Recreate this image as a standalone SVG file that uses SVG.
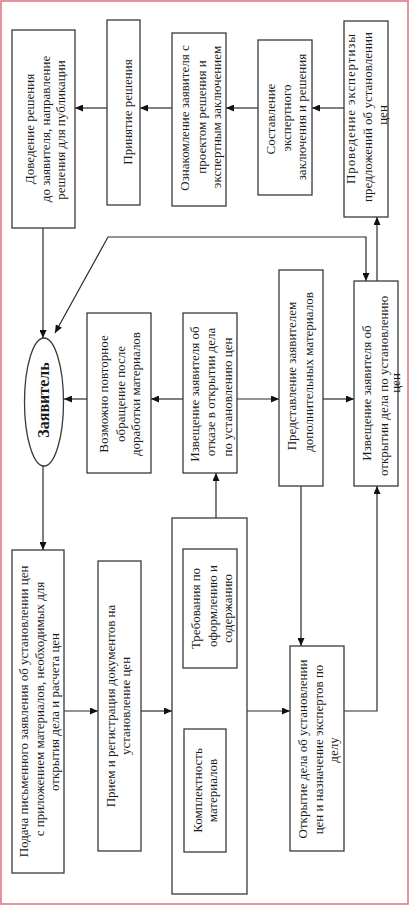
<svg xmlns="http://www.w3.org/2000/svg" width="410" height="906" viewBox="0 0 410 906">
<style>
.box{fill:#fff;stroke:#3a3a3a;stroke-width:1.3}
.t{font-family:"Liberation Serif","Times New Roman",serif;font-size:13px;fill:#1a1a1a;text-anchor:middle}
.s{text-anchor:start}
.b{font-weight:bold;font-size:16px}
.c{fill:none;stroke:#2a2a2a;stroke-width:1.2}
</style>
<defs>
<marker id="ah" markerUnits="userSpaceOnUse" markerWidth="8" markerHeight="7" refX="8" refY="3.5" orient="auto-start-reverse">
<path d="M0,0 L8,3.5 L0,7 z" fill="#111"/>
</marker>
</defs>
<rect x="0" y="0" width="410" height="906" fill="#fff"/>
<rect x="1" y="1" width="407" height="903" fill="none" stroke="#e07080" stroke-width="1.5"/>

<g id="connectors" class="c" marker-end="url(#ah)">
<path d="M344,108 H312"/>
<path d="M258,108 H226"/>
<path d="M172,108 H140"/>
<path d="M107,108 H75"/>
<path d="M43,228 V338"/>
<path d="M366,281 V237 H108 L55,333" marker-start="url(#ah)"/>
<path d="M377,281 V217"/>
<path d="M183,399 H151"/>
<path d="M87,399 H64"/>
<path d="M237,399 H279"/>
<path d="M323,399 H354"/>
<path d="M43,466 V550"/>
<path d="M216,518 V473"/>
<path d="M301,486 V646"/>
<path d="M344,711 H377 V486"/>
<path d="M64,711 H98"/>
<path d="M141,711 H172"/>
<path d="M247,711 H290"/>
</g>

<g id="n-dovedenie">
<rect class="box" x="12" y="30" width="63" height="198"/>
<text class="t" transform="translate(33.5,129) rotate(-90)">Доведение решения</text>
<text class="t" transform="translate(49.5,129) rotate(-90)">до заявителя, направление</text>
<text class="t" transform="translate(64.5,130) rotate(-90)">решения для публикации</text>
</g>
<g id="n-prinyatie">
<rect class="box" x="107" y="20" width="33" height="185"/>
<text class="t" transform="translate(132,112) rotate(-90)">Принятие решения</text>
</g>
<g id="n-oznakomlenie">
<rect class="box" x="172" y="33" width="54" height="173"/>
<text class="t" transform="translate(189,118) rotate(-90)">Ознакомление заявителя с</text>
<text class="t" transform="translate(205.5,117) rotate(-90)">проектом решения и</text>
<text class="t" transform="translate(221,117) rotate(-90)">экспертным заключением</text>
</g>
<g id="n-sostavlenie">
<rect class="box" x="258" y="40" width="54" height="155"/>
<text class="t" transform="translate(275,119) rotate(-90)">Составление</text>
<text class="t" transform="translate(291,118) rotate(-90)">экспертного</text>
<text class="t" transform="translate(306,117) rotate(-90)">заключения и решения</text>
</g>
<g id="n-provedenie">
<rect class="box" x="344" y="21" width="44" height="196"/>
<text class="t s" transform="translate(355,184) rotate(-90)" textLength="150" lengthAdjust="spacing">Проведение экспертизы</text>
<text class="t" transform="translate(371.5,117) rotate(-90)">предложений об установлении</text>
<text class="t" transform="translate(386.5,115) rotate(-90)">цен</text>
</g>

<g id="n-zayavitel">
<ellipse cx="44" cy="402" rx="19.5" ry="64" fill="#fff" stroke="#3a3a3a" stroke-width="1.3"/>
<text class="t b" transform="translate(48.5,400) rotate(-90)">Заявитель</text>
</g>

<g id="n-vozmozhno">
<rect class="box" x="87" y="313" width="64" height="160"/>
<text class="t" transform="translate(108,394) rotate(-90)">Возможно повторное</text>
<text class="t" transform="translate(124.5,394) rotate(-90)">обращение после</text>
<text class="t" transform="translate(140,394) rotate(-90)">доработки материалов</text>
</g>
<g id="n-otkaz">
<rect class="box" x="183" y="313" width="54" height="160"/>
<text class="t" transform="translate(198.5,394) rotate(-90)">Извещение заявителя об</text>
<text class="t" transform="translate(215,392) rotate(-90)">отказе в открытии дела</text>
<text class="t" transform="translate(231.5,397) rotate(-90)">по установлению цен</text>
</g>
<g id="n-predstavlenie">
<rect class="box" x="279" y="270" width="44" height="216"/>
<text class="t" transform="translate(296,376) rotate(-90)">Представление заявителем</text>
<text class="t" transform="translate(313,372) rotate(-90)">дополнительных материалов</text>
</g>
<g id="n-otkrytii">
<rect class="box" x="354" y="281" width="44" height="205"/>
<text class="t" transform="translate(371,393) rotate(-90)">Извещение заявителя об</text>
<text class="t" transform="translate(388,386) rotate(-90)">открытии дела по установлению</text>
<text class="t" transform="translate(400,383) rotate(-90)">цен</text>
</g>

<g id="n-podacha">
<rect class="box" x="12" y="550" width="52" height="323"/>
<text class="t" transform="translate(28,711.5) rotate(-90)">Подача письменного заявления об установлении цен</text>
<text class="t" transform="translate(44,709) rotate(-90)">с приложением материалов, необходимых для</text>
<text class="t" transform="translate(58.5,712) rotate(-90)">открытия дела и расчета цен</text>
</g>
<g id="n-priem">
<rect class="box" x="98" y="561" width="43" height="290"/>
<text class="t" transform="translate(115,706) rotate(-90)">Прием и регистрация документов на</text>
<text class="t" transform="translate(130,706) rotate(-90)">установление цен</text>
</g>
<g id="n-proverka">
<rect class="box" x="172" y="518" width="75" height="376"/>
</g>
<g id="n-trebovaniya">
<rect class="box" x="183" y="549" width="54" height="119"/>
<text class="t" transform="translate(200,608.5) rotate(-90)">Требования по</text>
<text class="t" transform="translate(216.5,606) rotate(-90)">оформлению и</text>
<text class="t" transform="translate(231.5,608.5) rotate(-90)">содержанию</text>
</g>
<g id="n-komplektnost">
<rect class="box" x="184" y="729" width="42" height="123"/>
<text class="t" transform="translate(201.5,790.5) rotate(-90)">Комплектность</text>
<text class="t" transform="translate(216.5,790.5) rotate(-90)">материалов</text>
</g>
<g id="n-otkrytie">
<rect class="box" x="290" y="646" width="54" height="205"/>
<text class="t" transform="translate(306.5,749) rotate(-90)">Открытие дела об установлении</text>
<text class="t" transform="translate(323,749.5) rotate(-90)">цен и назначение экспертов по</text>
<text class="t" transform="translate(338,750) rotate(-90)">делу</text>
</g>
</svg>
